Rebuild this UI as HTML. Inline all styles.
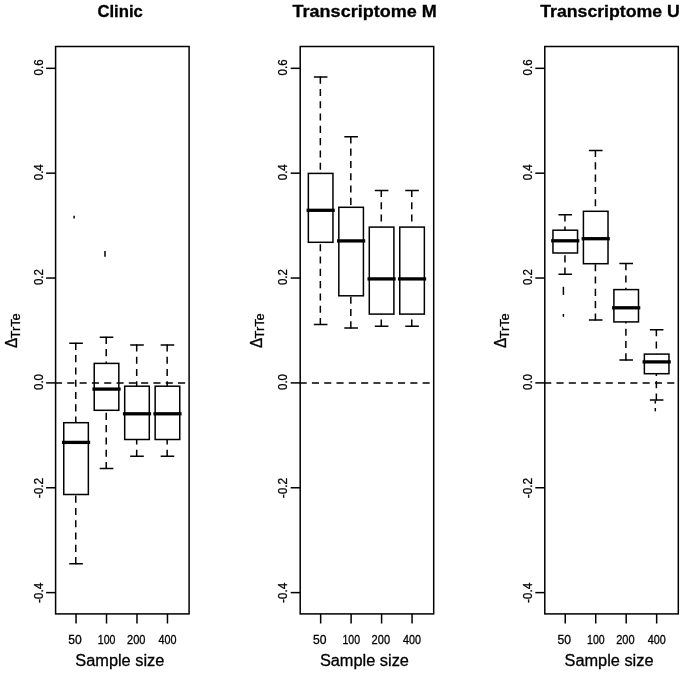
<!DOCTYPE html>
<html><head><meta charset="utf-8"><title>Boxplots</title>
<style>
html,body{margin:0;padding:0;background:#fff;}
body{width:685px;height:673px;overflow:hidden;}
svg{display:block;filter:grayscale(1);}
text{font-family:"Liberation Sans",sans-serif;fill:#000;}
.t{font-weight:bold;font-size:17px;stroke:#000;stroke-width:0.3px;}
.a{font-size:12.3px;stroke:#000;stroke-width:0.3px;}
.l{font-size:16px;stroke:#000;stroke-width:0.3px;}
.s{font-size:13px;stroke:#000;stroke-width:0.3px;}
.k{stroke:#000;stroke-width:1.5;fill:none;}
.d{stroke:#000;stroke-width:1.5;fill:none;stroke-dasharray:7.1 5.2;}
.m{stroke:#000;stroke-width:3.3;fill:none;}
</style></head><body>
<svg width="685" height="673" viewBox="0 0 685 673">
<rect x="0" y="0" width="685" height="673" fill="#fff"/>
<!-- panel 1 -->
<text class="t" x="97.4" y="16.8" textLength="45.5" lengthAdjust="spacingAndGlyphs">Clinic</text>
<rect class="k" x="55.6" y="46.5" width="133.5" height="567.4"/>
<path class="k" d="M46.1 68.32H55.6"/>
<text class="a" text-anchor="middle" textLength="15.95" lengthAdjust="spacingAndGlyphs" transform="translate(42.6 67.42) rotate(-90)">0.6</text>
<path class="k" d="M46.1 173.18H55.6"/>
<text class="a" text-anchor="middle" textLength="15.95" lengthAdjust="spacingAndGlyphs" transform="translate(42.6 172.28) rotate(-90)">0.4</text>
<path class="k" d="M46.1 278.04H55.6"/>
<text class="a" text-anchor="middle" textLength="15.95" lengthAdjust="spacingAndGlyphs" transform="translate(42.6 277.14) rotate(-90)">0.2</text>
<path class="k" d="M46.1 382.9H55.6"/>
<text class="a" text-anchor="middle" textLength="15.95" lengthAdjust="spacingAndGlyphs" transform="translate(42.6 382) rotate(-90)">0.0</text>
<path class="k" d="M46.1 487.76H55.6"/>
<text class="a" text-anchor="middle" textLength="20.4" lengthAdjust="spacingAndGlyphs" transform="translate(42.6 488.06) rotate(-90)">-0.2</text>
<path class="k" d="M46.1 592.62H55.6"/>
<text class="a" text-anchor="middle" textLength="20.4" lengthAdjust="spacingAndGlyphs" transform="translate(42.6 592.92) rotate(-90)">-0.4</text>
<path class="k" d="M76.05 613.9V623.5"/>
<text class="a" text-anchor="middle" textLength="13.5" lengthAdjust="spacingAndGlyphs" x="75.05" y="643.7">50</text>
<path class="k" d="M106.52 613.9V623.5"/>
<text class="a" text-anchor="middle" textLength="17.6" lengthAdjust="spacingAndGlyphs" x="106.62" y="643.7">100</text>
<path class="k" d="M136.99 613.9V623.5"/>
<text class="a" text-anchor="middle" textLength="18.45" lengthAdjust="spacingAndGlyphs" x="136.24" y="643.7">200</text>
<path class="k" d="M167.46 613.9V623.5"/>
<text class="a" text-anchor="middle" textLength="18" lengthAdjust="spacingAndGlyphs" x="167.46" y="643.7">400</text>
<text class="l" x="75.3" y="666.4" textLength="89" lengthAdjust="spacingAndGlyphs">Sample size</text>
<text class="l" style="font-size:16.4px" textLength="10.2" lengthAdjust="spacingAndGlyphs" transform="translate(17.1 348.1) rotate(-90)">&#916;</text>
<text class="s" textLength="25" lengthAdjust="spacingAndGlyphs" transform="translate(19.6 338.4) rotate(-90)">TrTe</text>
<path class="d" d="M55 382.9H189.1"/>
<path class="d" d="M75.75 342.8V422.7"/>
<path class="d" d="M75.75 564.2V494.5"/>
<path class="k" d="M69.25 343.3H82.85 M69.25 563.7H82.85"/>
<rect class="k" x="63.75" y="422.7" width="24.6" height="71.8"/>
<path class="m" d="M61.95 442.4H90.15"/>
<path class="d" d="M106.22 336.8V363.4"/>
<path class="d" d="M106.22 469.1V410.3"/>
<path class="k" d="M99.72 337.3H113.32 M99.72 468.6H113.32"/>
<rect class="k" x="94.22" y="363.4" width="24.6" height="46.9"/>
<path class="m" d="M92.42 389.1H120.62"/>
<path class="d" d="M136.69 344.4V386.2"/>
<path class="d" d="M136.69 456.8V439.5"/>
<path class="k" d="M130.19 344.9H143.79 M130.19 456.3H143.79"/>
<rect class="k" x="124.69" y="386.2" width="24.6" height="53.3"/>
<path class="m" d="M122.89 413.8H151.09"/>
<path class="d" d="M167.16 344.4V386.2"/>
<path class="d" d="M167.16 456.8V439.5"/>
<path class="k" d="M160.66 344.9H174.26 M160.66 456.3H174.26"/>
<rect class="k" x="155.16" y="386.2" width="24.6" height="53.3"/>
<path class="m" d="M153.36 413.8H181.56"/>
<!-- panel 2 -->
<text class="t" x="292.6" y="16.8" textLength="144.1" lengthAdjust="spacingAndGlyphs">Transcriptome M</text>
<rect class="k" x="300.2" y="46.5" width="133.5" height="567.4"/>
<path class="k" d="M290.7 68.32H300.2"/>
<text class="a" text-anchor="middle" textLength="15.95" lengthAdjust="spacingAndGlyphs" transform="translate(287.2 67.42) rotate(-90)">0.6</text>
<path class="k" d="M290.7 173.18H300.2"/>
<text class="a" text-anchor="middle" textLength="15.95" lengthAdjust="spacingAndGlyphs" transform="translate(287.2 172.28) rotate(-90)">0.4</text>
<path class="k" d="M290.7 278.04H300.2"/>
<text class="a" text-anchor="middle" textLength="15.95" lengthAdjust="spacingAndGlyphs" transform="translate(287.2 277.14) rotate(-90)">0.2</text>
<path class="k" d="M290.7 382.9H300.2"/>
<text class="a" text-anchor="middle" textLength="15.95" lengthAdjust="spacingAndGlyphs" transform="translate(287.2 382) rotate(-90)">0.0</text>
<path class="k" d="M290.7 487.76H300.2"/>
<text class="a" text-anchor="middle" textLength="20.4" lengthAdjust="spacingAndGlyphs" transform="translate(287.2 488.06) rotate(-90)">-0.2</text>
<path class="k" d="M290.7 592.62H300.2"/>
<text class="a" text-anchor="middle" textLength="20.4" lengthAdjust="spacingAndGlyphs" transform="translate(287.2 592.92) rotate(-90)">-0.4</text>
<path class="k" d="M320.65 613.9V623.5"/>
<text class="a" text-anchor="middle" textLength="13.5" lengthAdjust="spacingAndGlyphs" x="319.65" y="643.7">50</text>
<path class="k" d="M351.12 613.9V623.5"/>
<text class="a" text-anchor="middle" textLength="17.6" lengthAdjust="spacingAndGlyphs" x="351.22" y="643.7">100</text>
<path class="k" d="M381.59 613.9V623.5"/>
<text class="a" text-anchor="middle" textLength="18.45" lengthAdjust="spacingAndGlyphs" x="380.84" y="643.7">200</text>
<path class="k" d="M412.06 613.9V623.5"/>
<text class="a" text-anchor="middle" textLength="18" lengthAdjust="spacingAndGlyphs" x="412.06" y="643.7">400</text>
<text class="l" x="319.9" y="666.4" textLength="89" lengthAdjust="spacingAndGlyphs">Sample size</text>
<text class="l" style="font-size:16.4px" textLength="10.2" lengthAdjust="spacingAndGlyphs" transform="translate(261.7 348.1) rotate(-90)">&#916;</text>
<text class="s" textLength="25" lengthAdjust="spacingAndGlyphs" transform="translate(264.2 338.4) rotate(-90)">TrTe</text>
<path class="d" d="M299.6 382.9H433.7"/>
<path class="d" d="M320.35 76.6V173.4"/>
<path class="d" d="M320.35 325.1V242.3"/>
<path class="k" d="M313.85 77.1H327.45 M313.85 324.6H327.45"/>
<rect class="k" x="308.35" y="173.4" width="24.6" height="68.9"/>
<path class="m" d="M306.55 210.3H334.75"/>
<path class="d" d="M350.82 136.3V207.3"/>
<path class="d" d="M350.82 328.4V295.8"/>
<path class="k" d="M344.32 136.8H357.92 M344.32 327.9H357.92"/>
<rect class="k" x="338.82" y="207.3" width="24.6" height="88.5"/>
<path class="m" d="M337.02 240.9H365.22"/>
<path class="d" d="M381.29 189.9V227.1"/>
<path class="d" d="M381.29 326.7V314.1"/>
<path class="k" d="M374.79 190.4H388.39 M374.79 326.2H388.39"/>
<rect class="k" x="369.29" y="227.1" width="24.6" height="87"/>
<path class="m" d="M367.49 278.9H395.69"/>
<path class="d" d="M411.76 189.9V227.1"/>
<path class="d" d="M411.76 326.7V314.1"/>
<path class="k" d="M405.26 190.4H418.86 M405.26 326.2H418.86"/>
<rect class="k" x="399.76" y="227.1" width="24.6" height="87"/>
<path class="m" d="M397.96 278.9H426.16"/>
<!-- panel 3 -->
<text class="t" x="540.2" y="16.8" textLength="139.6" lengthAdjust="spacingAndGlyphs">Transcriptome U</text>
<rect class="k" x="544.8" y="46.5" width="133.5" height="567.4"/>
<path class="k" d="M535.3 68.32H544.8"/>
<text class="a" text-anchor="middle" textLength="15.95" lengthAdjust="spacingAndGlyphs" transform="translate(531.8 67.42) rotate(-90)">0.6</text>
<path class="k" d="M535.3 173.18H544.8"/>
<text class="a" text-anchor="middle" textLength="15.95" lengthAdjust="spacingAndGlyphs" transform="translate(531.8 172.28) rotate(-90)">0.4</text>
<path class="k" d="M535.3 278.04H544.8"/>
<text class="a" text-anchor="middle" textLength="15.95" lengthAdjust="spacingAndGlyphs" transform="translate(531.8 277.14) rotate(-90)">0.2</text>
<path class="k" d="M535.3 382.9H544.8"/>
<text class="a" text-anchor="middle" textLength="15.95" lengthAdjust="spacingAndGlyphs" transform="translate(531.8 382) rotate(-90)">0.0</text>
<path class="k" d="M535.3 487.76H544.8"/>
<text class="a" text-anchor="middle" textLength="20.4" lengthAdjust="spacingAndGlyphs" transform="translate(531.8 488.06) rotate(-90)">-0.2</text>
<path class="k" d="M535.3 592.62H544.8"/>
<text class="a" text-anchor="middle" textLength="20.4" lengthAdjust="spacingAndGlyphs" transform="translate(531.8 592.92) rotate(-90)">-0.4</text>
<path class="k" d="M565.25 613.9V623.5"/>
<text class="a" text-anchor="middle" textLength="13.5" lengthAdjust="spacingAndGlyphs" x="564.25" y="643.7">50</text>
<path class="k" d="M595.72 613.9V623.5"/>
<text class="a" text-anchor="middle" textLength="17.6" lengthAdjust="spacingAndGlyphs" x="595.82" y="643.7">100</text>
<path class="k" d="M626.19 613.9V623.5"/>
<text class="a" text-anchor="middle" textLength="18.45" lengthAdjust="spacingAndGlyphs" x="625.44" y="643.7">200</text>
<path class="k" d="M656.66 613.9V623.5"/>
<text class="a" text-anchor="middle" textLength="18" lengthAdjust="spacingAndGlyphs" x="656.66" y="643.7">400</text>
<text class="l" x="564.5" y="666.4" textLength="89" lengthAdjust="spacingAndGlyphs">Sample size</text>
<text class="l" style="font-size:16.4px" textLength="10.2" lengthAdjust="spacingAndGlyphs" transform="translate(506.3 348.1) rotate(-90)">&#916;</text>
<text class="s" textLength="25" lengthAdjust="spacingAndGlyphs" transform="translate(508.8 338.4) rotate(-90)">TrTe</text>
<path class="d" d="M544.2 382.9H678.3"/>
<path class="d" d="M564.95 214.3V230.2"/>
<path class="d" d="M564.95 274.7V253"/>
<path class="k" d="M558.45 214.8H572.05 M558.45 274.2H572.05"/>
<rect class="k" x="552.95" y="230.2" width="24.6" height="22.8"/>
<path class="m" d="M551.15 240.8H579.35"/>
<path class="d" d="M595.42 150V211.3"/>
<path class="d" d="M595.42 320.5V263.7"/>
<path class="k" d="M588.92 150.5H602.52 M588.92 320H602.52"/>
<rect class="k" x="583.42" y="211.3" width="24.6" height="52.4"/>
<path class="m" d="M581.62 238.7H609.82"/>
<path class="d" d="M625.89 263.1V289.6"/>
<path class="d" d="M625.89 360.4V321.9"/>
<path class="k" d="M619.39 263.6H632.99 M619.39 359.9H632.99"/>
<rect class="k" x="613.89" y="289.6" width="24.6" height="32.3"/>
<path class="m" d="M612.09 307.8H640.29"/>
<path class="d" d="M656.36 329.2V354.1"/>
<path class="d" d="M656.36 400.5V373.7"/>
<path class="k" d="M649.86 329.7H663.46 M649.86 400H663.46"/>
<rect class="k" x="644.36" y="354.1" width="24.6" height="19.6"/>
<path class="m" d="M642.56 361.9H670.76"/>
<path class="k" style="stroke-width:1.5" d="M74.1 215.7V218.6"/>
<path class="k" style="stroke-width:1.5" d="M105 251V256.7"/>
<path class="k" style="stroke-width:1.5" d="M563.4 286.8V294.9"/>
<path class="k" style="stroke-width:1.5" d="M563.4 314V316.8"/>
<path class="k" style="stroke-width:1.5" d="M655.3 400.9V403.6"/>
<path class="k" style="stroke-width:1.5" d="M655.3 408V411.3"/>
</svg>
</body></html>
